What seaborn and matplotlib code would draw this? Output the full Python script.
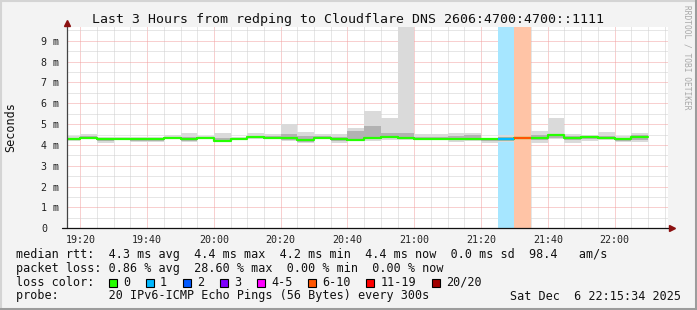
import matplotlib
matplotlib.use("Agg")
import matplotlib.pyplot as plt
import matplotlib.dates as mdates
from matplotlib.patches import Rectangle
from matplotlib.lines import Line2D
import seaborn as sns
import numpy as np
import pandas as pd

# ---------------- data ----------------
bar_starts = ["19:15", "19:20", "19:25", "19:30", "19:35", "19:40", "19:45", "19:50", "19:55",
              "20:00", "20:05", "20:10", "20:15", "20:20", "20:25", "20:30", "20:35", "20:40",
              "20:45", "20:50", "20:55", "21:00", "21:05", "21:10", "21:15", "21:20", "21:25",
              "21:30", "21:35", "21:40", "21:45", "21:50", "21:55", "22:00", "22:05"]
median_ms = [4.30, 4.35, 4.29, 4.29, 4.29, 4.29, 4.33, 4.27, 4.32,
             4.20, 4.29, 4.37, 4.35, 4.33, 4.25, 4.35, 4.29, 4.25, 4.32, 4.37, 4.33,
             4.30, 4.30, 4.27, 4.30, 4.30, 4.27, 4.32, 4.33, 4.46, 4.35, 4.40, 4.32,
             4.27, 4.38]
smoke_lo = [4.20, 4.28, 4.11, 4.22, 4.12, 4.12, 4.29, 4.14, 4.27,
            4.13, 4.22, 4.30, 4.30, 4.20, 4.08, 4.27, 4.11, 4.18, 4.20, 4.25, 4.22,
            4.22, 4.22, 4.15, 4.20, 4.11, 4.14, 4.30, 4.11, 4.27, 4.11, 4.20, 4.23,
            4.13, 4.13]
smoke_hi = [4.42, 4.53, 4.38, 4.36, 4.36, 4.36, 4.49, 4.57, 4.41,
            4.57, 4.37, 4.56, 4.53, 4.99, 4.61, 4.53, 4.51, 4.83, 5.63, 5.28, 10.5,
            4.51, 4.51, 4.57, 4.58, 4.33, 4.48, 4.34, 4.67, 5.31, 4.53, 4.50, 4.61,
            4.45, 4.59]
core_lo = [4.26, 4.30, 4.18, 4.25, 4.20, 4.20, 4.30, 4.20, 4.29,
           4.17, 4.25, 4.33, 4.32, 4.25, 4.15, 4.31, 4.20, 4.22, 4.28, 4.32, 4.28,
           4.26, 4.26, 4.22, 4.26, 4.20, 4.20, 4.31, 4.25, 4.35, 4.22, 4.28, 4.27,
           4.20, 4.25]
core_hi = [4.35, 4.42, 4.33, 4.33, 4.33, 4.33, 4.40, 4.38, 4.36,
           4.35, 4.33, 4.45, 4.42, 4.51, 4.41, 4.42, 4.38, 4.67, 4.91, 4.56, 4.56,
           4.40, 4.40, 4.45, 4.50, 4.31, 4.36, 4.33, 4.50, 4.54, 4.42, 4.45, 4.45,
           4.35, 4.50]
loss_pings = [0] * 26 + [1, 6] + [0] * 7

loss_labels = ["0", "1", "2", "3", "4-5", "6-10", "11-19", "20/20"]
loss_colors = ["#26ff00", "#00b8ff", "#0059ff", "#7e00ff", "#ff00ff", "#ff5500", "#ff0000", "#a10000"]
loss_upper = [0, 1, 2, 3, 5, 10, 19, 20]

y_ticks = [0, 1, 2, 3, 4, 5, 6, 7, 8, 9]
y_tick_labels = ["0", "1 m", "2 m", "3 m", "4 m", "5 m", "6 m", "7 m", "8 m", "9 m"]

title = "Last 3 Hours from redping to Cloudflare DNS 2606:4700:4700::1111"
legend_rtt = "median rtt:  4.3 ms avg  4.4 ms max  4.2 ms min  4.4 ms now  0.0 ms sd  98.4   am/s"
legend_loss = "packet loss: 0.86 % avg  28.60 % max  0.00 % min  0.00 % now"
legend_probe = "probe:       20 IPv6-ICMP Echo Pings (56 Bytes) every 300s"
stamp = "Sat Dec  6 22:15:34 2025"
day = "2025-12-06"
view_start, view_end = "19:16", "22:16"

# ---------------- style ----------------
sns.set_style("white")
plt.rcParams['font.family'] = ['DejaVu Sans Mono', 'DejaVu Sans']

W, H = 697, 310
fig = plt.figure(figsize=(W / 100, H / 100), dpi=100, facecolor="#f3f3f3")
ax_l, ax_r, ax_t, ax_b = 67, 668, 27, 228.3
ax = fig.add_axes([ax_l / W, (H - ax_b) / H, (ax_r - ax_l) / W, (ax_b - ax_t) / H])
ax.set_facecolor("white")

def loss_class(n):
    for i, u in enumerate(loss_upper):
        if n <= u:
            return i
    return len(loss_upper) - 1

def tint(hexcol, a=0.35):
    r, g, b = matplotlib.colors.to_rgb(hexcol)
    return (1 - a + a * r, 1 - a + a * g, 1 - a + a * b)

t = mdates.date2num(pd.to_datetime([f"{day} {s}" for s in bar_starts]))
w = 5 / 1440.0
df = pd.DataFrame({"t": t, "median": median_ms, "lo": smoke_lo, "hi": smoke_hi,
                   "clo": core_lo, "chi": core_hi, "loss": loss_pings})

ymax = (ax_b - ax_t) / 20.83

# loss background
for _, r in df.iterrows():
    if r["loss"] > 0:
        ax.axvspan(r["t"], r["t"] + w, color=tint(loss_colors[loss_class(r["loss"])]), lw=0, zorder=1)

# smoke
ax.bar(df["t"], df["hi"] - df["lo"], bottom=df["lo"], width=w, align="edge",
       color="#dadada", lw=0, zorder=2)
ax.bar(df["t"], df["chi"] - df["clo"], bottom=df["clo"], width=w, align="edge",
       color="#b2b2b2", lw=0, zorder=2)

# median step line
step = pd.DataFrame({"x": np.ravel(np.column_stack([df["t"], df["t"] + w])),
                     "y": np.repeat(df["median"].values, 2)})
sns.lineplot(data=step, x="x", y="y", ax=ax, color=loss_colors[0], lw=1.6,
             sort=False, estimator=None, zorder=3)
for _, r in df.iterrows():
    if r["loss"] > 0:
        ax.hlines(r["median"], r["t"], r["t"] + w, color=loss_colors[loss_class(r["loss"])],
                  lw=1.6, zorder=4)

# axes ranges / ticks
x0 = mdates.date2num(pd.Timestamp(f"{day} {view_start}"))
x1 = mdates.date2num(pd.Timestamp(f"{day} {view_end}"))
ax.set_xlim(x0, x1)
ax.set_ylim(0, ymax)
ax.set_xlabel("")
ax.set_ylabel("")
ax.xaxis.set_major_locator(mdates.MinuteLocator(byminute=[0, 20, 40]))
ax.xaxis.set_minor_locator(mdates.MinuteLocator(byminute=[5, 10, 15, 25, 30, 35, 45, 50, 55]))
ax.xaxis.set_major_formatter(mdates.DateFormatter("%H:%M"))
ax.set_yticks(y_ticks)
ax.set_yticklabels(y_tick_labels)
ax.set_yticks([v + 0.5 for v in y_ticks], minor=True)

ax.set_axisbelow(True)
ax.grid(which="major", color="#f2a0a0", linestyle=(0, (1, 1)), lw=0.72)
ax.grid(which="minor", color="#cfcfcf", linestyle=(0, (1, 1)), lw=0.72)
for s in ax.spines.values():
    s.set_visible(False)

ax.tick_params(axis="both", which="major", length=2, width=0.72, color="#555555",
               labelsize=7.2, labelcolor="#222222", direction="out")
ax.tick_params(axis="x", which="major", pad=2.5)
ax.tick_params(axis="y", which="major", pad=16.6)
ax.tick_params(axis="both", which="minor", length=0)
for lab in ax.get_yticklabels():
    lab.set_horizontalalignment("left")

# axis lines with arrows
ax.add_line(Line2D([0, 0], [0, 1 + 4 / (ax_b - ax_t)], transform=ax.transAxes,
                   color="#444444", lw=0.9, clip_on=False, zorder=5))
ax.add_line(Line2D([-5 / (ax_r - ax_l), 1 + 2 / (ax_r - ax_l)], [0, 0], transform=ax.transAxes,
                   color="#111111", lw=0.9, clip_on=False, zorder=5))
ax.plot([0], [1 + 4 / (ax_b - ax_t)], marker="^", ms=4.5, color="#8b1010",
        transform=ax.transAxes, clip_on=False, zorder=6)
ax.plot([1 + 4 / (ax_r - ax_l)], [0], marker=">", ms=4.5, color="#8b1010",
        transform=ax.transAxes, clip_on=False, zorder=6)

# texts
def fx(px):
    return px / W

def fy(py):
    return 1 - py / H

fig.text(fx(347.5), fy(19.5), title, ha="center", va="center", fontsize=9.5, color="#111111")
fig.text(fx(11), fy(127.5), "Seconds", rotation=90, ha="center", va="center", fontsize=8.5,
         color="#111111")
fig.text(fx(687.5), fy(57), "RRDTOOL / TOBI OETIKER", rotation=270, ha="center", va="center",
         fontsize=5.7, color="#a8a8a8")

fs = 8.5
fig.text(fx(16), fy(254.3), legend_rtt, ha="left", va="center", fontsize=fs, color="#111111")
fig.text(fx(16), fy(268.3), legend_loss, ha="left", va="center", fontsize=fs, color="#111111")
fig.text(fx(16), fy(282.3), "loss color:", ha="left", va="center", fontsize=fs, color="#111111")
fig.text(fx(16), fy(296), legend_probe, ha="left", va="center", fontsize=fs, color="#111111")
fig.text(fx(681), fy(296), stamp, ha="right", va="center", fontsize=fs, color="#111111")

cw = 7.12
bx = 108.7
for lab, col in zip(loss_labels, loss_colors):
    fig.patches.append(Rectangle((fx(bx), fy(286.5)), 8 / W, 8 / H, transform=fig.transFigure,
                                 facecolor=col, edgecolor="black", lw=0.8, figure=fig))
    fig.text(fx(bx + 14.3), fy(282.3), lab, ha="left", va="center", fontsize=fs, color="#111111")
    bx += 37 + cw * (len(lab) - 1)

# frame
fig.add_artist(Line2D([0, 1], [fy(1), fy(1)], transform=fig.transFigure, color="#d4d4d4", lw=1.5))
fig.add_artist(Line2D([fx(1), fx(1)], [0, 1], transform=fig.transFigure, color="#d4d4d4", lw=1.5))
fig.add_artist(Line2D([0, 1], [fy(308.5), fy(308.5)], transform=fig.transFigure, color="#9c9c9c", lw=2.2))
fig.add_artist(Line2D([fx(695.5), fx(695.5)], [0, 1], transform=fig.transFigure, color="#9c9c9c", lw=2.2))

fig.savefig("out.png", dpi=100, facecolor=fig.get_facecolor())
